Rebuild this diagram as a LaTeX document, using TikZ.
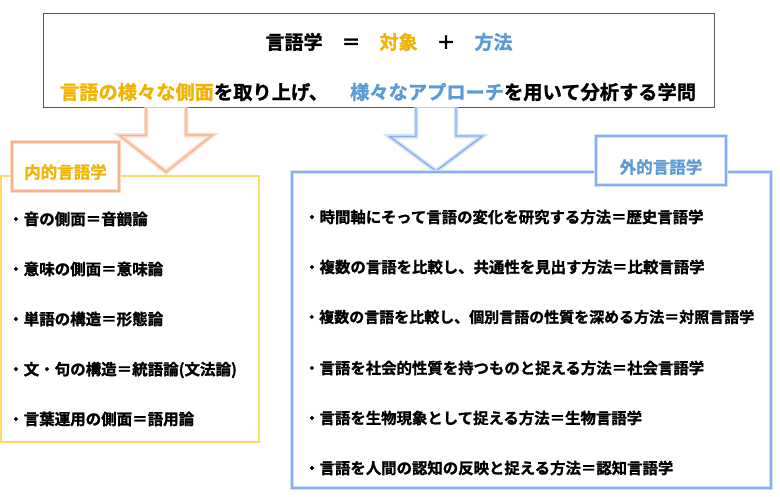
\documentclass[tikz,border=0pt]{standalone}
\usepackage{fontspec}
\setmainfont{Noto Sans CJK JP}[BoldFont={Noto Sans CJK JP Bold}, BoldFeatures={FakeBold=1.3}]
\usetikzlibrary{positioning,calc}
\definecolor{amber}{HTML}{F0B400}
\definecolor{skyblue}{HTML}{5B9BD5}
\definecolor{peach}{HTML}{F6B48A}
\definecolor{peachglow}{HTML}{FBDCC8}
\definecolor{gold}{HTML}{FFD966}
\definecolor{cornflower}{HTML}{86AEF2}
\definecolor{cornglow}{HTML}{D2E2FB}
\newcommand{\jpsize}[1]{\fontsize{#1}{#1}\selectfont\bfseries}
\tikzset{
  basic/.style = {rectangle, inner sep=0pt},
  headbox/.style = {basic, fill=white, draw=black!65, line width=0.9pt},
  peachline/.style = {draw=peach, line width=1.3pt, preaction={fill=white},
    preaction={draw=peachglow, line width=4.5pt}},
  blueline/.style = {draw=cornflower, line width=1.3pt, preaction={fill=white},
    preaction={draw=cornglow, line width=4.5pt}},
  inner box/.style = {basic, fill=white, draw=gold, line width=1.3pt},
  outer box/.style = {basic, blueline},
  tagtext/.style = {basic, font=\jpsize{16.5}},
  item/.style = {basic, anchor=west, font=\jpsize{15.5}}
}
\begin{document}
\begin{tikzpicture}[x=1pt, y=-1pt]
\useasboundingbox (0,0) rectangle (780,496);
% title box
\node [headbox, minimum width=671pt, minimum height=94pt] (head) at (378.5,60) {};
\node [font=\jpsize{19}] (formula) at (389,42) {言語学　＝　\textcolor{amber}{対象}　＋　\textcolor{skyblue}{方法}};
\node [font=\jpsize{19.25}] (gloss) at (378,92) {\textcolor{amber}{言語の様々な側面}を取り上げ、\hspace{22pt}\textcolor{skyblue}{様々なアプローチ}を用いて分析する学問};
% the two block arrows
\coordinate (otip) at (166,172);
\coordinate (btip) at (436,171);
\path [peachline] ($(otip |- head.south)+(-20,0)$) -- ++(0,28) -- ++(-26.5,0) -- (otip)
  -- ++(46.5,-37) -- ++(-26.5,0) -- ($(otip |- head.south)+(20,0)$);
\path [blueline] ($(btip |- head.south)+(-20,0)$) -- ++(0,29) -- ++(-26.5,0) -- (btip)
  -- ++(46.5,-35) -- ++(-26.5,0) -- ($(btip |- head.south)+(20,0)$);
% the two frames and their tags
\node [inner box, minimum width=258pt, minimum height=266pt] (inner) at (130,309) {};
\node [outer box, minimum width=479pt, minimum height=316pt] (outer) at (531.5,330) {};
\node [basic, peachline, minimum width=107pt, minimum height=49pt] (intag) at (65.5,166.5) {};
\node [tagtext, text=amber] (intagtext) at ([yshift=-5.5pt]intag.center) {内的言語学};
\node [basic, blueline, minimum width=130pt, minimum height=49pt] (outtag) at (661,160.5) {};
\node [tagtext, text=skyblue] (outtagtext) at ([yshift=-6.5pt]outtag.center) {外的言語学};
% inner linguistics
\begin{scope}[every node/.style={item}]
\node (in1) at (8,219) {・音の側面＝音韻論};
\node [below=50pt of in1.west, anchor=west] (in2) {・意味の側面＝意味論};
\node [below=50pt of in2.west, anchor=west] (in3) {・単語の構造＝形態論};
\node [below=51pt of in3.west, anchor=west] (in4) {・文・句の構造＝統語論(文法論)};
\node [below=49pt of in4.west, anchor=west] (in5) {・言葉運用の側面＝語用論};
\end{scope}
% outer linguistics
\begin{scope}[every node/.style={item, font=\jpsize{15.4}}]
\node (out1) at (304,217) {・時間軸にそって言語の変化を研究する方法＝歴史言語学};
\node [below=50pt of out1.west, anchor=west] (out2) {・複数の言語を比較し、共通性を見出す方法＝比較言語学};
\node [below=50pt of out2.west, anchor=west, font=\jpsize{15}] (out3) {・複数の言語を比較し、個別言語の性質を深める方法＝対照言語学};
\node [below=51pt of out3.west, anchor=west] (out4) {・言語を社会的性質を持つものと捉える方法＝社会言語学};
\node [below=50pt of out4.west, anchor=west] (out5) {・言語を生物現象として捉える方法＝生物言語学};
\node [below=50pt of out5.west, anchor=west] (out6) {・言語を人間の認知の反映と捉える方法＝認知言語学};
\end{scope}
\end{tikzpicture}
\end{document}
